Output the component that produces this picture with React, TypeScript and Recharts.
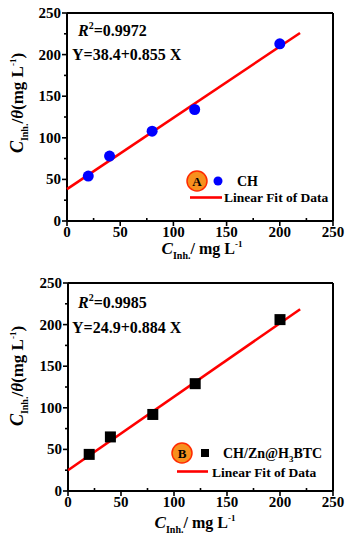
import React from 'react';
import { ComposedChart, Scatter, XAxis, YAxis, ReferenceLine } from 'recharts';

// ---- data ----
const concA = [20, 40, 80, 120, 200];
const ratioA = [54, 78, 108, 134, 213];
const fitXA = [0, 219];
const fitYA = [38.4, 226];

const concB = [20, 40, 80, 120, 200];
const ratioB = [44, 65, 92, 129, 206];
const fitXB = [0, 219];
const fitYB = [24.9, 218.5];

const axisTicks = [0, 25, 50, 75, 100, 125, 150, 175, 200, 225, 250];

const FONT = '"Liberation Serif", "Times New Roman", serif';

const toPts = (xs: number[], ys: number[]) => xs.map((x, i) => ({ x, y: ys[i] }));

const XTick = (props: any) => {
  const { x, y, payload } = props;
  const v = payload.value;
  const major = v % 50 === 0;
  return (
    <g>
      <line x1={x} x2={x} y1={y} y2={major ? y + 5 : y - 3} stroke="#000" strokeWidth={1.6} />
      {major && (
        <text x={x} y={y + 16} textAnchor="middle" fontFamily={FONT} fontWeight="bold" fontSize={15} fill="#000">
          {v}
        </text>
      )}
    </g>
  );
};

const YTick = (props: any) => {
  const { x, y, payload } = props;
  const v = payload.value;
  const major = v % 50 === 0;
  return (
    <g>
      <line x1={x} x2={x - (major ? 5 : 3)} y1={y} y2={y} stroke="#000" strokeWidth={1.6} />
      {major && (
        <text x={x - 6} y={y + 5} textAnchor="end" fontFamily={FONT} fontWeight="bold" fontSize={15} fill="#000">
          {v}
        </text>
      )}
    </g>
  );
};

const CircleDot = (props: any) => {
  const { cx, cy } = props;
  return <circle cx={cx} cy={cy} r={5.5} fill="#0000ff" />;
};
const SquareDot = (props: any) => {
  const { cx, cy } = props;
  return <rect x={cx - 5.5} y={cy - 5.5} width={11} height={11} fill="#000" />;
};
const NoDot = () => <g />;

type PanelProps = {
  pts: { x: number; y: number }[];
  fit: { x: number; y: number }[];
  marker: 'circle' | 'square';
  margin: { top: number; right: number; bottom: number; left: number };
  r2: string;
  eq: string;
  badge: string;
  seriesName: React.ReactNode;
  legend: { bx: number; by: number; mx: number; tx: number; ty: number; lx1: number; lx2: number; ly: number; ltx: number; lty: number };
  ann: { rx: number; ry: number; yx: number; yy: number };
  xt: { x: number; y: number };
  yt: { x: number; y: number };
};

const Panel = (p: PanelProps) => {
  const L = p.legend;
  return (
    <div style={{ position: 'relative', width: 352, height: 275 }}>
      <ComposedChart width={352} height={275} margin={p.margin}>
        <XAxis
          type="number"
          dataKey="x"
          domain={[0, 250]}
          ticks={axisTicks}
          interval={0}
          tickLine={false}
          tickSize={0}
          tickMargin={0}
          height={30}
          axisLine={{ stroke: '#000', strokeWidth: 2 }}
          tick={<XTick />}
        />
        <YAxis
          type="number"
          dataKey="y"
          domain={[0, 250]}
          ticks={axisTicks}
          interval={0}
          tickLine={false}
          tickSize={0}
          tickMargin={0}
          width={60}
          axisLine={{ stroke: '#000', strokeWidth: 2 }}
          tick={<YTick />}
        />
        <ReferenceLine y={250} stroke="#000" strokeWidth={2} />
        <ReferenceLine x={250} stroke="#000" strokeWidth={2} />
        <Scatter
          name="fit"
          data={p.fit}
          line={{ stroke: '#ff0000', strokeWidth: 2.6 }}
          shape={<NoDot />}
          isAnimationActive={false}
        />
        <Scatter
          name="data"
          data={p.pts}
          shape={p.marker === 'circle' ? <CircleDot /> : <SquareDot />}
          isAnimationActive={false}
        />
      </ComposedChart>
      <svg width={352} height={275} style={{ position: 'absolute', left: 0, top: 0, pointerEvents: 'none' }}>
        <circle cx={L.bx} cy={L.by} r={10} fill="#f7901e" stroke="#ff2a00" strokeWidth={1.5} />
        <text x={L.bx} y={L.by + 4.5} textAnchor="middle" fontFamily={FONT} fontWeight="bold" fontSize={13} fill="#000">
          {p.badge}
        </text>
        {p.marker === 'circle' ? (
          <circle cx={L.mx} cy={L.by} r={4.5} fill="#0000ff" />
        ) : (
          <rect x={L.mx - 4} y={L.by - 4} width={8} height={8} fill="#000" />
        )}
        <text x={L.tx} y={L.ty} fontFamily={FONT} fontWeight="bold" fontSize={14} fill="#000">
          {p.seriesName}
        </text>
        <line x1={L.lx1} x2={L.lx2} y1={L.ly} y2={L.ly} stroke="#ff0000" strokeWidth={2.6} />
        <text x={L.ltx} y={L.lty} fontFamily={FONT} fontWeight="bold" fontSize={13.5} fill="#000">
          Linear Fit of Data
        </text>
        <text x={p.ann.rx} y={p.ann.ry} fontFamily={FONT} fontWeight="bold" fontSize={16} fill="#000">
          <tspan fontStyle="italic">R</tspan>
          <tspan fontSize={10} dy={-7}>2</tspan>
          <tspan dy={7}>{p.r2}</tspan>
        </text>
        <text x={p.ann.yx} y={p.ann.yy} fontFamily={FONT} fontWeight="bold" fontSize={16} fill="#000">
          {p.eq}
        </text>
        <text x={p.xt.x} y={p.xt.y} textAnchor="middle" fontFamily={FONT} fontWeight="bold" fontSize={16} fill="#000">
          <tspan fontStyle="italic" fontSize={17}>C</tspan>
          <tspan fontSize={10} dy={5}>Inh.</tspan>
          <tspan dy={-5}>/ mg L</tspan>
          <tspan fontSize={9} dy={-7}>-1</tspan>
        </text>
        <text
          transform={`translate(${p.yt.x},${p.yt.y}) rotate(-90)`}
          textAnchor="middle"
          fontFamily={FONT}
          fontWeight="bold"
          fontSize={17}
          fill="#000"
        >
          <tspan fontStyle="italic" fontSize={18}>C</tspan>
          <tspan fontSize={10} dy={5}>Inh.</tspan>
          <tspan dy={-5}>/</tspan>
          <tspan fontStyle="italic">θ</tspan>
          <tspan>(mg L</tspan>
          <tspan fontSize={9} dy={-7}>-1</tspan>
          <tspan dy={7}>)</tspan>
        </text>
      </svg>
    </div>
  );
};

export default function App() {
  return (
    <div style={{ position: 'absolute', left: 0, top: 0, width: 352, height: 550, background: '#fff' }}>
      <Panel
        pts={toPts(concA, ratioA)}
        fit={toPts(fitXA, fitYA)}
        marker="circle"
        margin={{ top: 13, right: 19, bottom: 24, left: 7 }}
        r2="=0.9972"
        eq="Y=38.4+0.855 X"
        badge="A"
        seriesName="CH"
        legend={{ bx: 197, by: 181, mx: 218, tx: 237, ty: 186, lx1: 190, lx2: 222, ly: 197.5, ltx: 224, lty: 202 }}
        ann={{ rx: 78, ry: 36, yx: 72, yy: 60 }}
        xt={{ x: 202, y: 254 }}
        yt={{ x: 23, y: 103 }}
      />
      <Panel
        pts={toPts(concB, ratioB)}
        fit={toPts(fitXB, fitYB)}
        marker="square"
        margin={{ top: 8, right: 19, bottom: 29, left: 8 }}
        r2="=0.9985"
        eq="Y=24.9+0.884 X"
        badge="B"
        seriesName={
          <>
            <tspan>CH/Zn@H</tspan>
            <tspan fontSize={9} dy={4}>3</tspan>
            <tspan dy={-4}>BTC</tspan>
          </>
        }
        legend={{ bx: 182, by: 178, mx: 205, tx: 223, ty: 183, lx1: 177, lx2: 208, ly: 196.5, ltx: 212, lty: 202 }}
        ann={{ rx: 78, ry: 33, yx: 72, yy: 58 }}
        xt={{ x: 195, y: 253 }}
        yt={{ x: 23, y: 101 }}
      />
    </div>
  );
}
